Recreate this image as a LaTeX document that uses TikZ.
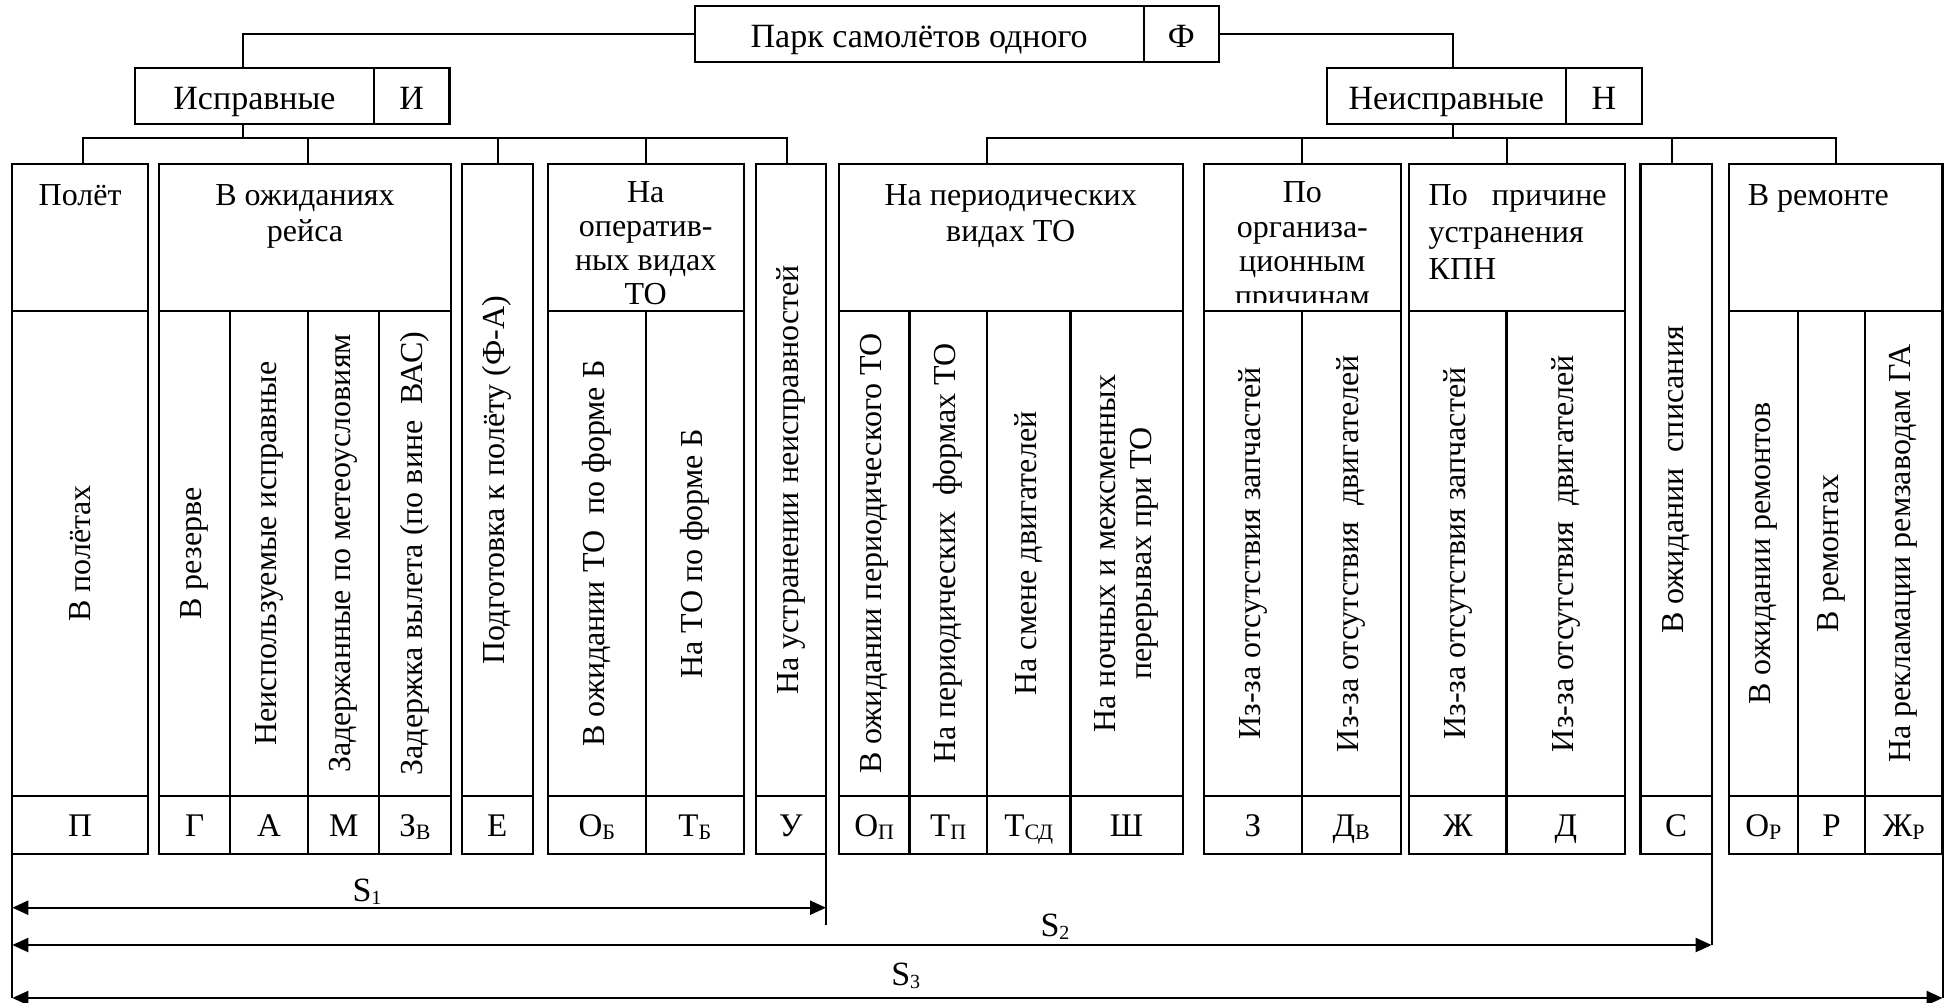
\documentclass[tikz,border=0pt]{standalone}
\usepackage{fontspec}
\setmainfont{Liberation Serif}
\usetikzlibrary{arrows.meta,calc}

\newcommand{\fz}[2]{\fontsize{#1pt}{#2pt}\selectfont}
\newcommand{\lsub}[1]{\raisebox{-3pt}{\fz{22}{22}#1}}
\newcommand{\lsubn}[1]{\raisebox{-3pt}{\fz{20}{20}#1}}

% header cell (y 164..311), vertical-text cell (top..796), code cell (796..854)
\newcommand{\hcell}[3]{\node[box,minimum width={(#3)-(#2)},minimum height=147] (#1) at ({((#2)+(#3))/2},237.5) {};}
\newcommand{\vcell}[5]{\node[box,minimum width={(#3)-(#2)},minimum height={796-(#4)}] (#1) at ({((#2)+(#3))/2},{((#4)+796)/2}) {};
  \node[vtext] (#1t) at (#1.center) {#5};}
\newcommand{\ccell}[4]{\node[box,minimum width={(#3)-(#2)},minimum height=58] (#1) at ({((#2)+(#3))/2},825) {};
  \node[ctext] (#1t) at ({((#2)+(#3))/2},836.7) {#4};}

\begin{document}
\begin{tikzpicture}[x=1pt,y=-1pt,
  box/.style={draw,line width=2.2pt,inner sep=0pt,outer sep=0pt,fill=white},
  wire/.style={line width=2pt},
  htext/.style={inner sep=0pt,font={\fz{32}{36}},align=center},
  vtext/.style={inner sep=0pt,rotate=90,font={\fz{32}{36}},align=center},
  ctext/.style={inner sep=0pt,anchor=base,font={\fz{33}{33}}},
  ttext/.style={inner sep=0pt,anchor=base,font={\fz{34}{34}}},
  slabel/.style={inner sep=0pt,anchor=base,font={\fz{34}{34}}},
  spanarrow/.style={line width=2.2pt,{Triangle[length=16pt,width=14pt]}-{Triangle[length=16pt,width=14pt]}}
]
\useasboundingbox (0,0) rectangle (1950,1003);

% ---- top level boxes
\node[box,minimum width=449.1,minimum height=56] (parkL) at (919.15,34) {};
\node[box,minimum width=75.3,minimum height=56] (parkR) at (1181.35,34) {};
\node[ttext] (parkLt) at (919.15,48) {Парк самолётов одного};
\node[ttext] (parkRt) at (1181.35,48) {Ф};

\node[box,minimum width=239,minimum height=56] (ispL) at (254.5,96) {};
\node[box,minimum width=75.5,minimum height=56] (ispR) at (411.75,96) {};
\node[ttext] (ispLt) at (254.5,110) {Исправные};
\node[ttext] (ispRt) at (411.75,110) {И};

\node[box,minimum width=238.7,minimum height=56] (nisL) at (1446.35,96) {};
\node[box,minimum width=76.3,minimum height=56] (nisR) at (1603.85,96) {};
\node[ttext] (nisLt) at (1446.35,110) {Неисправные};
\node[ttext] (nisRt) at (1603.85,110) {Н};

% ---- header cells
\hcell{polH}{12.3}{148}
\hcell{waitH}{159.3}{450.7}
\hcell{operH}{547.7}{743.7}
\hcell{perH}{838.8}{1182.6}
\hcell{orgH}{1204}{1400.7}
\hcell{kpnH}{1409.3}{1625}
\hcell{remH}{1729}{1942.5}

\node[htext,anchor=north] (polHt) at (80.15,184.5) {Полёт};
\node[htext,anchor=north] (waitHt) at (305,184.5) {В ожиданиях\\рейса};
\node[htext,anchor=north,font={\fz{32}{34}}] (operHt) at (645.7,181.5) {На\\оператив-\\ных видах\\ТО};
\node[htext,anchor=north] (perHt) at (1010.7,184.5) {На периодических\\видах ТО};
\begin{scope}
  \clip (orgH.north west) rectangle ($(orgH.south east)+(0,-9)$);
  \node[htext,anchor=north,font={\fz{32}{34.5}}] (orgHt) at (1302.35,181.5) {По\\организа-\\ционным\\причинам};
\end{scope}
\node[htext,anchor=north west,align=left,font={\fz{32}{37}}] (kpnHt) at (1428.5,184.5)
  {\makebox[178pt][s]{По причине}\\устранения\\КПН};
\node[htext,anchor=north west] (remHt) at (1747.6,184.5) {В ремонте};

% ---- vertical text cells
\vcell{polV}{12.3}{148}{311}{В полётах}
\vcell{waitV1}{159.3}{230}{311}{В резерве}
\vcell{waitV2}{230}{308.3}{311}{Неиспользуемые исправные}
\vcell{waitV3}{308.3}{379.3}{311}{Задержанные по метеоусловиям}
\vcell{waitV4}{379.3}{450.7}{311}{Задержка вылета (по вине~~ВАС)}
\vcell{prepV}{461.7}{532.6}{164}{Подготовка к полёту (Ф-А)}
\vcell{operV1}{547.7}{646}{311}{В ожидании ТО~~по форме Б}
\vcell{operV2}{646}{743.7}{311}{На ТО по форме Б}
\vcell{fixV}{755.8}{826}{164}{На устранении неисправностей}
\vcell{perV1}{838.8}{909.4}{311}{В ожидании периодического ТО}
\vcell{perV2}{909.4}{987}{311}{На периодических~~формах ТО}
\vcell{perV3}{987}{1070.5}{311}{На смене двигателей}
\vcell{perV4}{1070.5}{1182.6}{311}{На ночных и межсменных\\перерывах при ТО}
\vcell{orgV1}{1204}{1301.7}{311}{Из-за отсутствия запчастей}
\vcell{orgV2}{1301.7}{1400.7}{311}{Из-за отсутствия~~двигателей}
\vcell{kpnV1}{1409.3}{1506.5}{311}{Из-за отсутствия запчастей}
\vcell{kpnV2}{1506.5}{1625}{311}{Из-за отсутствия~~двигателей}
\vcell{spisV}{1640.5}{1711.6}{164}{В ожидании~~списания}
\vcell{remV1}{1729}{1797.8}{311}{В ожидании ремонтов}
\vcell{remV2}{1797.8}{1865}{311}{В ремонтах}
\vcell{remV3}{1865}{1942.5}{311}{На рекламации ремзаводам ГА}

% ---- code cells
\ccell{polC}{12.3}{148}{П}
\ccell{waitC1}{159.3}{230}{Г}
\ccell{waitC2}{230}{308.3}{А}
\ccell{waitC3}{308.3}{379.3}{М}
\ccell{waitC4}{379.3}{450.7}{З\lsub{В}}
\ccell{prepC}{461.7}{532.6}{Е}
\ccell{operC1}{547.7}{646}{О\lsub{Б}}
\ccell{operC2}{646}{743.7}{Т\lsub{Б}}
\ccell{fixC}{755.8}{826}{У}
\ccell{perC1}{838.8}{909.4}{О\lsub{П}}
\ccell{perC2}{909.4}{987}{Т\lsub{П}}
\ccell{perC3}{987}{1070.5}{Т\lsub{СД}}
\ccell{perC4}{1070.5}{1182.6}{Ш}
\ccell{orgC1}{1204}{1301.7}{З}
\ccell{orgC2}{1301.7}{1400.7}{Д\lsub{В}}
\ccell{kpnC1}{1409.3}{1506.5}{Ж}
\ccell{kpnC2}{1506.5}{1625}{Д}
\ccell{spisC}{1640.5}{1711.6}{С}
\ccell{remC1}{1729}{1797.8}{О\lsub{Р}}
\ccell{remC2}{1797.8}{1865}{Р}
\ccell{remC3}{1865}{1942.5}{Ж\lsub{Р}}

% ---- tree connectors
\draw[wire] (parkL.west) -| ($(ispL.north)+(-11.5,0)$);
\draw[wire] (parkR.east) -| ($(nisL.north)+(7,0)$);

\coordinate (ibus) at ($(ispL.south)+(-11.5,14)$);
\draw[wire] ($(ispL.south)+(-11.5,0)$) -- (ibus);
\foreach \c/\d in {polH/2.5,waitH/3,prepV/1,operH/0,fixV/-4}
  \draw[wire] (ibus) -| ($(\c.north)+(\d,0)$);

\coordinate (nbus) at ($(nisL.south)+(7,14)$);
\draw[wire] ($(nisL.south)+(7,0)$) -- (nbus);
\foreach \c/\d in {perH/-23.7,orgH/0,kpnH/-10.6,spisV/-4,remH/0}
  \draw[wire] (nbus) -| ($(\c.north)+(\d,0)$);

% ---- span arrows S1, S2, S3
\coordinate (ya) at (0,907.7);
\coordinate (yb) at (0,945);
\coordinate (yc) at (0,998);
\draw[wire] (polC.south west) -- (polC.south west |- yc);
\draw[wire] (fixC.south east) -- ($(fixC.south east |- ya)+(0,17)$);
\draw[wire] (spisC.south east) -- (spisC.south east |- yb);
\draw[wire] (remC3.south east) -- (remC3.south east |- yc);
\draw[spanarrow] (polC.south west |- ya) -- (fixC.south east |- ya);
\draw[spanarrow] (polC.south west |- yb) -- (spisC.south east |- yb);
\draw[spanarrow] (polC.south west |- yc) -- (remC3.south east |- yc);

\node[slabel] (s1) at (367,901) {S\lsubn{1}};
\node[slabel] (s2) at (1055,936) {S\lsubn{2}};
\node[slabel] (s3) at (905.7,985) {S\lsubn{3}};
\end{tikzpicture}
\end{document}
